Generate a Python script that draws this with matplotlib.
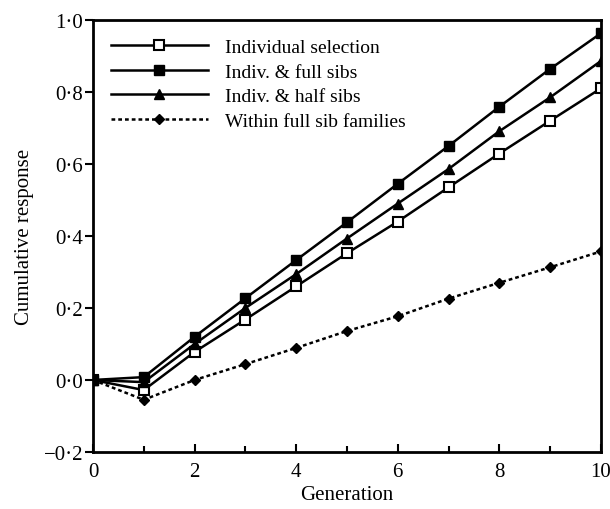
import matplotlib
matplotlib.use("Agg")
import matplotlib.pyplot as plt
from matplotlib.ticker import FuncFormatter, MultipleLocator

generation = [0, 1, 2, 3, 4, 5, 6, 7, 8, 9, 10]
individual = [0.0, -0.028, 0.078, 0.168, 0.26, 0.352, 0.44, 0.535, 0.629, 0.72, 0.81]
full_sibs = [0.0, 0.008, 0.12, 0.227, 0.333, 0.438, 0.545, 0.65, 0.759, 0.864, 0.963]
half_sibs = [0.0, -0.006, 0.10, 0.20, 0.294, 0.393, 0.49, 0.586, 0.691, 0.785, 0.886]
within_fs = [0.0, -0.055, 0.0, 0.044, 0.089, 0.136, 0.177, 0.226, 0.27, 0.313, 0.357]

labels = ["Individual selection", "Indiv. & full sibs", "Indiv. & half sibs",
          "Within full sib families"]

plt.rcParams['font.family'] = ['Liberation Serif', 'DejaVu Serif']

fig = plt.figure(figsize=(6.1, 5.1), dpi=100)
ax = fig.add_axes([0.1525, 0.1118, 0.8325, 0.847])

lw = 1.8
ax.plot(generation, individual, '-', color='black', lw=lw, marker='s', ms=6.5,
        mfc='white', mec='black', mew=1.5, label=labels[0])
ax.plot(generation, full_sibs, '-', color='black', lw=lw, marker='s', ms=6.5,
        mfc='black', mec='black', label=labels[1])
ax.plot(generation, half_sibs, '-', color='black', lw=lw, marker='^', ms=7,
        mfc='black', mec='black', label=labels[2])
ax.plot(generation, within_fs, color='black', lw=lw, linestyle=(0, (1.5, 1.2)),
        marker='D', ms=5, mfc='black', mec='black', label=labels[3])

ax.set_xlim(0, 10)
ax.set_ylim(-0.2, 1.0)
ax.xaxis.set_major_locator(MultipleLocator(2))
ax.xaxis.set_minor_locator(MultipleLocator(1))
ax.yaxis.set_major_locator(MultipleLocator(0.2))

def yfmt(v, pos):
    s = f"{abs(v):.1f}".replace('.', '\u00b7')
    return ('\u2212' + s) if v < -1e-9 else s

ax.yaxis.set_major_formatter(FuncFormatter(yfmt))
ax.tick_params(axis='x', which='major', direction='in', length=6, width=1.5,
               labelsize=15, pad=7)
ax.tick_params(axis='x', which='minor', direction='in', length=4, width=1.5)
ax.tick_params(axis='y', which='major', direction='out', length=6, width=1.5,
               labelsize=15, pad=1)
for sp in ax.spines.values():
    sp.set_linewidth(2)

ax.set_xlabel("Generation", fontsize=15, labelpad=3)
ax.set_ylabel("Cumulative response", fontsize=15, labelpad=7)

leg = ax.legend(loc='upper left', bbox_to_anchor=(0.0, 0.998), frameon=False,
                fontsize=14, handlelength=5.0, numpoints=1, handletextpad=0.9,
                labelspacing=0.36, borderaxespad=0.5)

fig.savefig("out.png", dpi=100)
